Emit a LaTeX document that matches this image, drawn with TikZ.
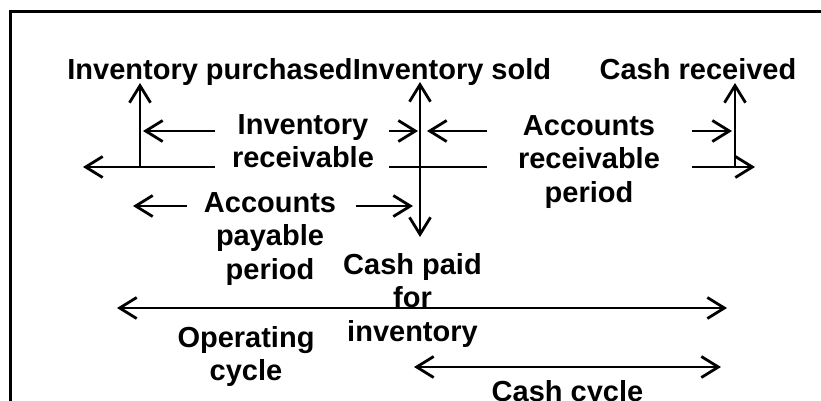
\documentclass[tikz,border=0pt]{standalone}
\usepackage{fontspec}
\setmainfont{Liberation Sans}
\usetikzlibrary{arrows.meta}
\tikzset{
  barb/.tip={Straight Barb[length=17pt,width=21pt,line join=miter]},
  % multi-line labels sit on the baseline of their last line
  lbl/.style={font=\bfseries\fontsize{29}{33.6}\selectfont, align=center, inner sep=0pt, anchor=base},
  rule/.style={line width=2.8pt},
  frame/.style={line width=3pt}
}
\begin{document}
\begin{tikzpicture}[x=1pt,y=-1pt]
  \clip (0,0) rectangle (821,400);
  % outer frame, running off the right and bottom edges
  \draw[frame] (10,11) rectangle (840,420);

  % labels
  \node[lbl] (purch) at (210,79) {Inventory purchased};
  \node[lbl] (sold)  at (452,79) {Inventory sold};
  \node[lbl] (recv)  at (698,79) {Cash received};
  \node[lbl] (invper) at (303,167.6) {Inventory\\receivable};
  \node[lbl] (arper)  at (589,202.2) {Accounts\\receivable\\period};
  \node[lbl] (apper)  at (270,279.2) {Accounts\\payable\\period};
  \node[lbl] (paid)   at (412.5,341.2) {Cash paid\\for\\inventory};
  \node[lbl] (opcyc)  at (246,380.6) {Operating\\cycle};
  \node[lbl] (cashcyc) at (567.5,401) {Cash cycle};

  % events on the time line
  \coordinate (P)  at (140,167);
  \coordinate (Pt) at (140,83);
  \coordinate (S)  at (420,167);
  \coordinate (St) at (420,82);
  \coordinate (Sb) at (420,237);
  \coordinate (R)  at (735,167);
  \coordinate (Rt) at (735,83);

  % time line, broken where the period labels sit
  \coordinate (tlL) at (83,167);
  \coordinate (tlR) at (755,167);
  \draw[rule,-barb] (215,167) -- (tlL);
  \draw[rule] (389,167) -- (487,167);
  \draw[rule,-barb] (692,167) -- (tlR);

  % event markers
  \draw[rule,-barb] (P) -- (Pt);
  \draw[rule,barb-barb] (Sb) -- (St);
  \draw[rule,-barb] (R) -- (Rt);

  % inventory period
  \draw[rule,-barb] (215,131) -- (143,131);
  \draw[rule,-barb] (389,131) -- (418,131);
  % accounts receivable period
  \draw[rule,-barb] (487,131) -- (427,131);
  \draw[rule,-barb] (692,131) -- (732,131);
  % accounts payable period
  \draw[rule,-barb] (187,206) -- (133,206);
  \draw[rule,-barb] (356,206) -- (413,206);

  % operating cycle and cash cycle
  \coordinate (opL) at (117,308);
  \coordinate (opR) at (727,308);
  \draw[rule,barb-barb] (opL) -- (opR);
  \coordinate (ccL) at (414,367);
  \coordinate (ccR) at (721,367);
  \draw[rule,barb-barb] (ccL) -- (ccR);
\end{tikzpicture}
\end{document}
